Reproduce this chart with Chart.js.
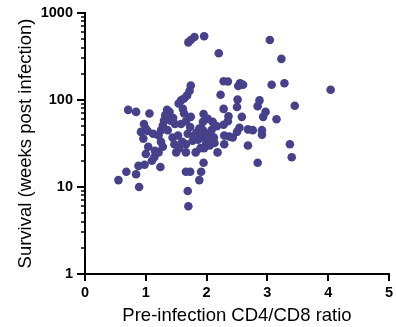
<!DOCTYPE html>
<html>
<head>
<meta charset="utf-8">
<script src="https://cdn.jsdelivr.net/npm/chart.js@4"></script>
<style>
  html, body { margin: 0; padding: 0; background: #fff; }
  #wrap { width: 396px; height: 327px; position: relative; }
  #log { position: absolute; left: 100px; top: 200px; font: 10px monospace; color: red; width: 290px; }
</style>
</head>
<body>
<div id="wrap"><canvas id="scatterChart"></canvas></div>
<div id="log"></div>
<script>
window.onerror = function (msg, src, line) {
    document.getElementById('log').textContent += msg + ' @' + line + ' | ';
};
// CD4/CD8 ratio before infection vs. survival (weeks)
let ratio = [
    0.55, 0.68, 0.71, 0.84, 0.84, 0.88, 0.89, 0.92, 0.97, 0.96,
    1.00, 1.06, 0.98, 1.00, 1.04, 1.10, 1.14, 1.12, 1.03, 1.24,
    1.21, 1.28, 1.25, 1.21, 1.25, 1.28, 1.30, 1.32, 1.35, 1.39,
    1.40, 1.48, 1.44, 1.47, 1.50, 1.55, 1.60, 1.53, 1.58, 1.66,
    1.63, 1.61, 1.54, 1.58, 1.63, 1.68, 1.72, 1.74, 1.74, 1.73,
    1.69, 1.66, 1.66, 1.66, 1.73, 1.69, 1.70, 1.88, 1.91, 1.95,
    1.77, 1.82, 1.83, 1.88, 1.94, 1.93, 1.96, 1.99, 2.02, 2.06,
    2.13, 2.18, 2.10, 2.17, 1.95, 2.02, 1.94, 2.23, 2.28, 2.35,
    2.36, 2.28, 2.29, 2.29, 2.37, 2.43, 2.50, 2.54, 2.68, 2.68,
    2.76, 2.91, 2.91, 2.84, 2.93, 2.97, 2.84, 2.87, 2.50, 2.51,
    2.58, 2.52, 2.55, 2.60, 2.28, 2.35, 3.07, 3.28, 4.04, 3.45,
    3.15, 3.37, 3.40, 1.70, 1.74, 1.80, 1.96, 2.20, 3.04, 3.23,
    1.86, 2.00, 2.08, 1.90, 2.12, 1.79, 2.05, 1.15, 1.36, 1.45
];
let survival = [
    12, 15, 77, 73, 14, 17.5, 10, 43, 53, 36,
    47, 70, 18, 24, 29, 20, 22, 41, 44, 17,
    25, 29, 33, 39, 45, 51, 58, 67, 77, 73,
    58, 53, 37, 31, 25, 28, 33, 39, 53, 57,
    70, 79, 91, 99, 104, 113, 128, 147, 64, 49,
    41, 31, 25, 15, 15, 9, 6, 12, 15, 19,
    34, 25, 42, 47, 45, 37, 28, 31, 34, 39,
    32, 25, 56, 50, 69, 61, 56, 115, 52, 57,
    65, 79, 39, 31, 38, 37, 43, 48, 46, 30,
    45, 45, 40, 19, 64, 73, 85, 99, 83, 101,
    64, 145, 156, 150, 164, 163, 150, 156, 131, 86,
    60, 31, 22, 460, 490, 530, 540, 345, 490, 297,
    35, 40, 45, 28, 37, 38, 30, 26, 45, 62
];
let xTicks = [0, 1, 2, 3, 4, 5];
let yTicks = [1, 10, 100, 1000];

// axis lines and outward tick marks (long at each decade, short in between)
function drawAxes(chart) {
    const a = chart.chartArea;
    const ctx = chart.ctx;
    const xs = chart.scales.x;
    const ys = chart.scales.y;
    ctx.save();
    ctx.strokeStyle = '#000000';
    ctx.lineWidth = 2;
    ctx.beginPath();
    ctx.moveTo(a.left, a.top);
    ctx.lineTo(a.left, a.bottom);
    ctx.lineTo(a.right + 1, a.bottom);
    ctx.stroke();

    xTicks.forEach(v => {
        const px = Math.round(xs.getPixelForValue(v));
        ctx.beginPath();
        ctx.moveTo(px, a.bottom);
        ctx.lineTo(px, a.bottom + 7);
        ctx.stroke();
    });

    for (let d = 1; d <= 1000; d *= 10) {
        for (let m = 1; m <= 9 && d * m <= 1000; m++) {
            const py = Math.round(ys.getPixelForValue(d * m));
            ctx.lineWidth = m === 1 ? 2 : 1.5;
            ctx.beginPath();
            ctx.moveTo(a.left, py);
            ctx.lineTo(a.left - (m === 1 ? 8 : 4), py);
            ctx.stroke();
        }
    }
    ctx.restore();
}

const axisMarks = {
    id: 'axisMarks',
    beforeDatasetsDraw(chart) {
        try { drawAxes(chart); } catch (e) {
            document.getElementById('log').textContent += 'plugin ' + e.message + ' | ';
        }
    }
};

try {
    let scatterChart = new Chart(document.getElementById('scatterChart'), {
        type: 'scatter',
        data: {
            datasets: [{
                data: ratio.map((r, i) => ({ x: r, y: survival[i] })),
                backgroundColor: 'rgb(70, 65, 138)',
                borderWidth: 0,
                pointRadius: 4.3,
                pointHoverRadius: 4.3,
                clip: false
            }]
        },
        plugins: [axisMarks],
        options: {
            responsive: true,
            maintainAspectRatio: false,
            animation: false,
            layout: { autoPadding: false, padding: { left: 0, top: 13, right: 7, bottom: 0 } },
            plugins: {
                legend: { display: false },
                tooltip: { enabled: false }
            },
            scales: {
                x: {
                    type: 'linear',
                    min: 0,
                    max: 5,
                    afterBuildTicks: scale => { scale.ticks = xTicks.map(v => ({ value: v })); },
                    afterFit: scale => {
                        scale.height = 53;
                        scale.paddingLeft = 0;
                        scale.paddingRight = 0;
                    },
                    grid: { display: false, drawTicks: false },
                    border: { display: true, color: '#000', width: 2 },
                    ticks: {
                        color: '#000',
                        padding: 10,
                        maxRotation: 0,
                        font: { family: 'Liberation Sans', size: 14.5, weight: 'bold' }
                    },
                    title: {
                        display: true,
                        text: 'Pre-infection CD4/CD8 ratio',
                        color: '#000',
                        padding: 0,
                        font: { family: 'Liberation Sans', size: 18.5 }
                    }
                },
                y: {
                    type: 'logarithmic',
                    min: 1,
                    max: 1000,
                    afterBuildTicks: scale => { scale.ticks = yTicks.map(v => ({ value: v })); },
                    afterFit: scale => {
                        scale.width = 85;
                        scale.paddingTop = 0;
                        scale.paddingBottom = 0;
                    },
                    grid: { display: false, drawTicks: false },
                    border: { display: true, color: '#000', width: 2 },
                    ticks: {
                        color: '#000',
                        padding: 12,
                        callback: v => String(v),
                        font: { family: 'Liberation Sans', size: 14.5, weight: 'bold' }
                    },
                    title: {
                        display: true,
                        text: 'Survival (weeks post infection)',
                        color: '#000',
                        padding: { top: 15, bottom: 0 },
                        font: { family: 'Liberation Sans', size: 18.5 }
                    }
                }
            }
        }
    });
} catch (e) {
    document.getElementById('log').textContent += 'caught ' + e.message + ' | ';
}
</script>
</body>
</html>
